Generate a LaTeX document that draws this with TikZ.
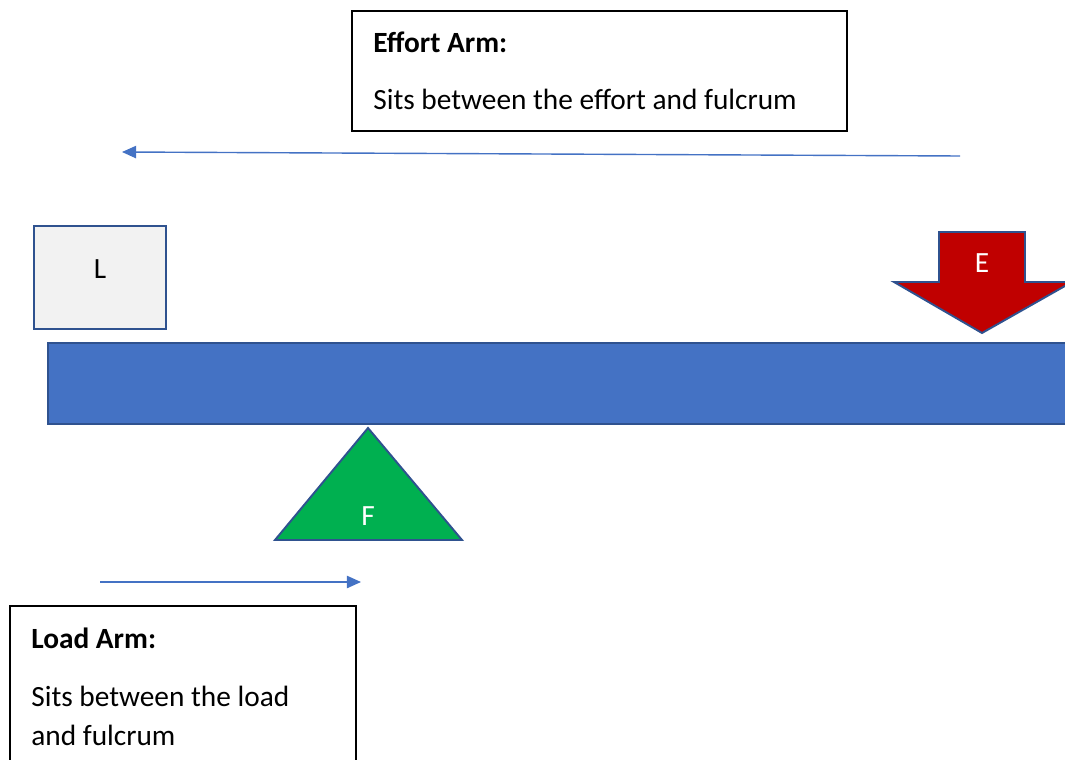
\documentclass[tikz,border=0pt]{standalone}
\usepackage{fontspec}
\setmainfont{Carlito}
\usetikzlibrary{arrows.meta, positioning}
\definecolor{lvblue}{HTML}{4472C4}
\definecolor{lvedge}{HTML}{2F528F}
\definecolor{lvred}{HTML}{C00000}
\definecolor{lvgreen}{HTML}{00B050}
\definecolor{lvgrey}{HTML}{F2F2F2}

\begin{document}
\begin{tikzpicture}[
  x=0.02cm, y=-0.02cm,
  every node/.style={font=\fontsize{16.7}{20}\selectfont, inner sep=0pt},
  infobox/.style={draw=black, line width=0.85pt, fill=white},
  infotext/.style={anchor=base west},
  shapebox/.style={draw=lvedge, line width=1.1pt},
  armline/.style={lvblue, line width=0.8pt, -{Triangle[length=8pt, width=7pt]}},
]
\useasboundingbox (0,0) rectangle (1065,760);
\clip (0,0) rectangle (1065,760);

% Effort arm box
\draw[infobox] (352,11) rectangle (847,131);
\node[infotext] (efftitle) at (373,53) {\bfseries Effort Arm:};
\node[infotext] (efftext) at (373,110) {Sits between the effort and fulcrum};

% Load
\draw[shapebox, fill=lvgrey] (34,226) rectangle (166,329);
\node (load) at (100,269) {L};

% Beam
\draw[shapebox, fill=lvblue] (48,343) rectangle (1080,424);

% Effort arrow
\draw[shapebox, fill=lvred, line join=miter]
  (939,232) -- (1025,232) -- (1025,282) -- (1072,282)
  -- (982,333) -- (894,282) -- (939,282) -- cycle;
\node[text=white] (effort) at (982,263) {E};

% Fulcrum
\draw[shapebox, fill=lvgreen, line join=miter] (368,428) -- (462,540) -- (275,540) -- cycle;
\node[text=white] (fulcrum) at (368,516) {F};

% Load arm box
\draw[infobox] (10,606) rectangle (356,800);
\node[infotext] (loadtitle) at (31,648) {\bfseries Load Arm:};
\node[infotext] (loadtext1) at (31,706) {Sits between the load};
\node[infotext] (loadtext2) at (31,745) {and fulcrum};

% Arm arrows
\coordinate (effstart) at (960,156);
\coordinate (effend) at (122,152);
\coordinate (loadstart) at (100,582);
\coordinate (loadend) at (361,582);
\draw[armline] (effstart) -- (effend);
\draw[armline] (loadstart) -- (loadend);

\end{tikzpicture}
\end{document}
